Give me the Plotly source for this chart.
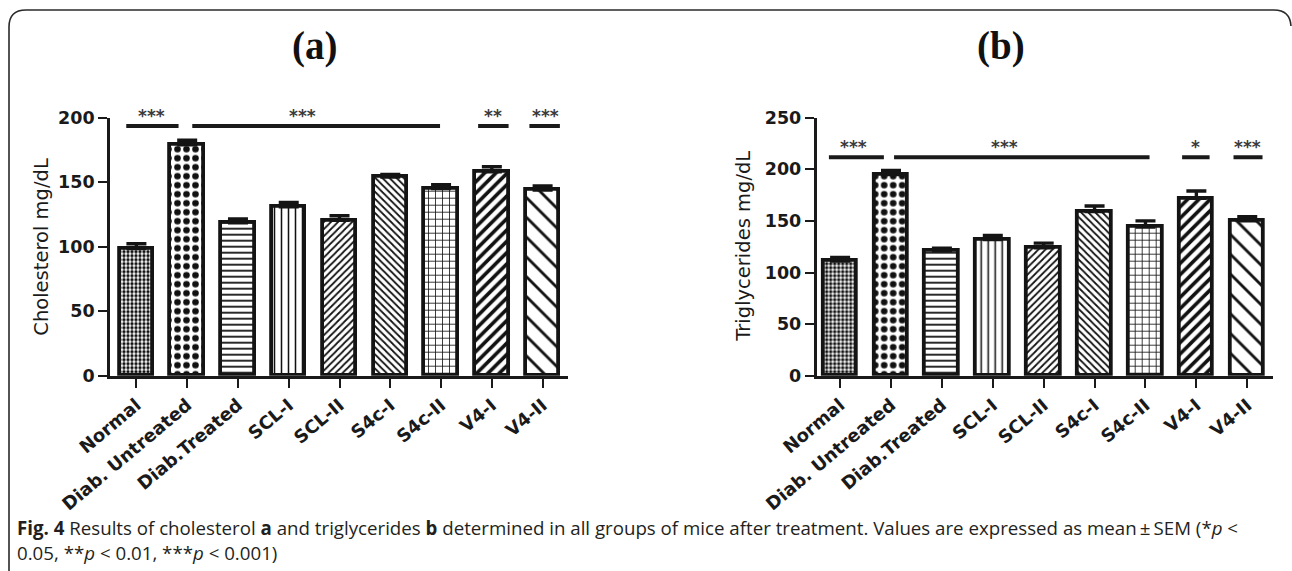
import plotly.graph_objects as go

W, H = 1292, 571

groups = ["Normal", "Diab. Untreated", "Diab.Treated", "SCL-I", "SCL-II",
          "S4c-I", "S4c-II", "V4-I", "V4-II"]
cholesterol = [98.5, 179, 118.5, 131, 120.5, 154, 145, 158, 144]
cholesterol_sem = [3.8, 3.5, 3.0, 3.3, 3.5, 2.0, 3.0, 4.0, 3.0]
triglycerides = [111, 195, 121, 132, 124, 159, 144, 172, 150]
triglycerides_sem = [3.5, 4.0, 2.5, 4.0, 4.5, 5.5, 6.0, 7.0, 4.0]

# significance bars: (from, to, star position, label) in category units
sig_a = [(-0.2, 0.83, 0.29, "***"), (1.1, 5.98, 3.28, "***"),
         (6.73, 7.33, 7.02, "**"), (7.74, 8.34, 8.05, "***")]
sig_b = [(-0.22, 0.86, 0.27, "***"), (1.06, 6.08, 3.23, "***"),
         (6.72, 7.26, 6.98, "*"), (7.73, 8.3, 8.0, "***")]
sig_a_level = 193.6
sig_b_level = 211.6

patterns = ["."] * 2 + ["-", "|", "/", "\\", "+", "/", "\\"]
pat_size = [4, 9, 6, 7, 5, 5, 7, 8, 14]
pat_solid = [0.55, 0.42, 0.3, 0.22, 0.35, 0.35, 0.22, 0.45, 0.2]


def px(x):
    return x / W


def py(y):
    return 1 - y / H


BAR_LINE = "#141414"


def bar_trace(vals, sems, xa, ya):
    return go.Bar(
        x=list(range(len(groups))), y=vals, xaxis=xa, yaxis=ya,
        width=0.66,
        marker=dict(color="white",
                    line=dict(color=BAR_LINE, width=3.8),
                    pattern=dict(shape=patterns, size=pat_size,
                                 solidity=pat_solid, fgcolor="#111111",
                                 bgcolor="white", fillmode="replace")),
        error_y=dict(type="data", symmetric=False, array=sems,
                     arrayminus=[0] * len(sems), color=BAR_LINE,
                     thickness=3.4, width=10),
        showlegend=False, hoverinfo="skip")


fig = go.Figure()
fig.add_trace(bar_trace(cholesterol, cholesterol_sem, "x", "y"))
fig.add_trace(bar_trace(triglycerides, triglycerides_sem, "x2", "y2"))

ytickfont = dict(family="DejaVu Sans", size=17.5, color="#1a1a1a",
                 weight="bold")
xtickfont = dict(family="DejaVu Sans", size=18, color="#1a1a1a",
                 weight="bold")
yd = [py(375.7), py(117.7)]

xcommon = dict(tickmode="array", tickvals=list(range(len(groups))),
               ticktext=groups, tickangle=-40, tickfont=xtickfont,
               showline=True, linecolor="#1a1a1a", linewidth=2.8,
               ticks="outside", ticklen=9, tickwidth=2.4, tickcolor="#1a1a1a",
               showgrid=False, zeroline=False, fixedrange=True,
               automargin=False)
ycommon = dict(tickfont=ytickfont, showline=True, linecolor="#1a1a1a",
               linewidth=2.8, ticks="outside", ticklen=9, tickwidth=2.4,
               tickcolor="#1a1a1a", showgrid=False, zeroline=False,
               domain=yd, fixedrange=True, automargin=False)

fig.update_layout(
    template="none",
    width=W, height=H,
    margin=dict(l=0, r=0, t=0, b=0, pad=0, autoexpand=False),
    paper_bgcolor="white", plot_bgcolor="white", bargap=0,
    xaxis=dict(domain=[px(110), px(568)], range=[-0.52, 8.5], anchor="y",
               **xcommon),
    yaxis=dict(range=[0, 200], tickvals=[0, 50, 100, 150, 200], anchor="x",
               **ycommon),
    xaxis2=dict(domain=[px(816.7), px(1272.7)], range=[-0.46, 8.5],
                anchor="y2", **xcommon),
    yaxis2=dict(range=[0, 250], tickvals=[0, 50, 100, 150, 200, 250],
                anchor="x2", **ycommon),
)

shapes = []
annotations = []
star_font = dict(family="DejaVu Sans", size=17, color="#3a3a3a",
                 weight="bold")
for (x0, x1, xs, lab) in sig_a:
    shapes.append(dict(type="line", xref="x", yref="y", x0=x0, x1=x1,
                       y0=sig_a_level, y1=sig_a_level,
                       line=dict(color="#1a1a1a", width=4)))
    annotations.append(dict(x=xs, y=sig_a_level, xref="x", yref="y",
                            yshift=10, text=lab, showarrow=False,
                            xanchor="center", yanchor="middle",
                            font=star_font))
for (x0, x1, xs, lab) in sig_b:
    shapes.append(dict(type="line", xref="x2", yref="y2", x0=x0, x1=x1,
                       y0=sig_b_level, y1=sig_b_level,
                       line=dict(color="#1a1a1a", width=4)))
    annotations.append(dict(x=xs, y=sig_b_level, xref="x2", yref="y2",
                            yshift=10, text=lab, showarrow=False,
                            xanchor="center", yanchor="middle",
                            font=star_font))

# frame with rounded top corners
path = (f"M {px(9)} {py(571)} L {px(9)} {py(27)} "
        f"Q {px(9)} {py(10)} {px(26)} {py(10)} "
        f"L {px(1274)} {py(10)} Q {px(1290)} {py(10)} {px(1291)} {py(26)}")
shapes.append(dict(type="path", xref="paper", yref="paper", path=path,
                   line=dict(color="#2a2a2a", width=1.6)))

title_font = dict(family="Liberation Serif", size=39, color="#111111",
                  weight="bold")
for xpos, txt in ((314, "(a)"), (1001, "(b)")):
    annotations.append(dict(x=px(xpos), y=py(46), xref="paper", yref="paper",
                            text=txt, showarrow=False, xanchor="center",
                            yanchor="middle", font=title_font))

ytitle_font = dict(family="DejaVu Sans", size=19.5, color="#1a1a1a")
for xpos, txt in ((42, "Cholesterol mg/dL"), (744, "Triglycerides mg/dL")):
    annotations.append(dict(x=px(xpos), y=py(246.7), xref="paper",
                            yref="paper", text=txt, textangle=-90,
                            showarrow=False, xanchor="center",
                            yanchor="middle", font=ytitle_font))

cap_font = dict(family="Open Sans", size=18.7, color="#231f20")
line1 = ("<b>Fig. 4</b> Results of cholesterol <b>a</b> and triglycerides "
         "<b>b</b> determined in all groups of mice after treatment. Values "
         "are expressed as mean\u2009\u00b1\u2009SEM (*<i>p</i> &lt;")
line2 = "0.05, **<i>p</i> &lt; 0.01, ***<i>p</i> &lt; 0.001)"
for ypos, txt in ((527, line1), (552, line2)):
    annotations.append(dict(x=px(15), y=py(ypos), xref="paper", yref="paper",
                            text=txt, showarrow=False, xanchor="left",
                            yanchor="middle", font=cap_font))

fig.update_layout(shapes=shapes, annotations=annotations)
fig.write_html("out.html", config={"displayModeBar": False},
               post_script="document.body.style.margin='0';"
                           "document.body.style.padding='0';")
